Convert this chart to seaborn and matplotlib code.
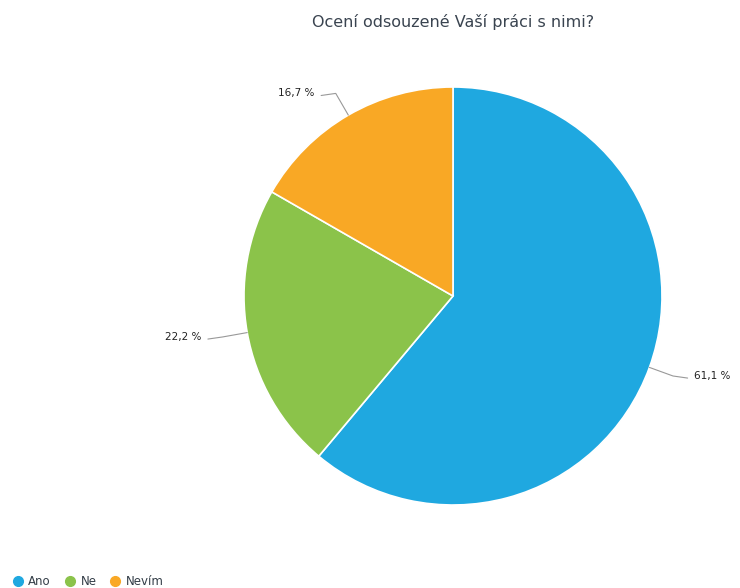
import numpy as np
import matplotlib
matplotlib.use("Agg")
import matplotlib.pyplot as plt
import seaborn as sns
from matplotlib.lines import Line2D

sns.set_theme(style="white")
plt.rcParams["font.family"] = ["DejaVu Sans"]

categories = ["Ano", "Ne", "Nevím"]
values = [61.1, 22.2, 16.7]
labels = ["61,1 %", "22,2 %", "16,7 %"]
colors = ["#1fa8e0", "#8bc34a", "#f9a825"]

fig = plt.figure(figsize=(7.4, 5.88), dpi=100)
cx, cy, r = 453, 292, 209
ax = fig.add_axes([(cx - r) / 740, (cy - r) / 588, 2 * r / 740, 2 * r / 588])

wedges, _ = ax.pie(values, colors=colors, startangle=90, counterclock=False,
                   wedgeprops=dict(edgecolor="white", linewidth=1.2))
ax.set_xlim(-1, 1)
ax.set_ylim(-1, 1)
ax.set_aspect("equal")
ax.axis("off")

# popisky s vodicimi carami
for w, lab in zip(wedges, labels):
    ang = np.deg2rad((w.theta1 + w.theta2) / 2)
    x, y = np.cos(ang), np.sin(ang)
    side = 1 if x >= 0 else -1
    ex, ey = 1.12 * x, 1.12 * y
    ax.plot([x, ex, ex + side * 0.07], [y, ey, ey - 0.01], color="#999999", lw=0.8,
            clip_on=False)
    ax.text(ex + side * 0.1, ey, lab, ha="left" if side > 0 else "right",
            va="center", fontsize=7.5, color="#222222", clip_on=False)

fig.text(cx / 740, 1 - 22 / 588, "Ocení odsouzené Vaší práci s nimi?",
         ha="center", va="center", fontsize=11.5, color="#3a4450")

handles = [Line2D([0], [0], marker="o", linestyle="", markersize=7,
                  markerfacecolor=c, markeredgecolor=c) for c in colors]
fig.legend(handles, categories, loc="lower left", bbox_to_anchor=(0.0, -0.018),
           ncol=3, frameon=False, fontsize=8.5, handletextpad=0.3,
           columnspacing=1.0, handlelength=1.2, labelcolor="#333d47")

fig.savefig("out.png", dpi=100)
